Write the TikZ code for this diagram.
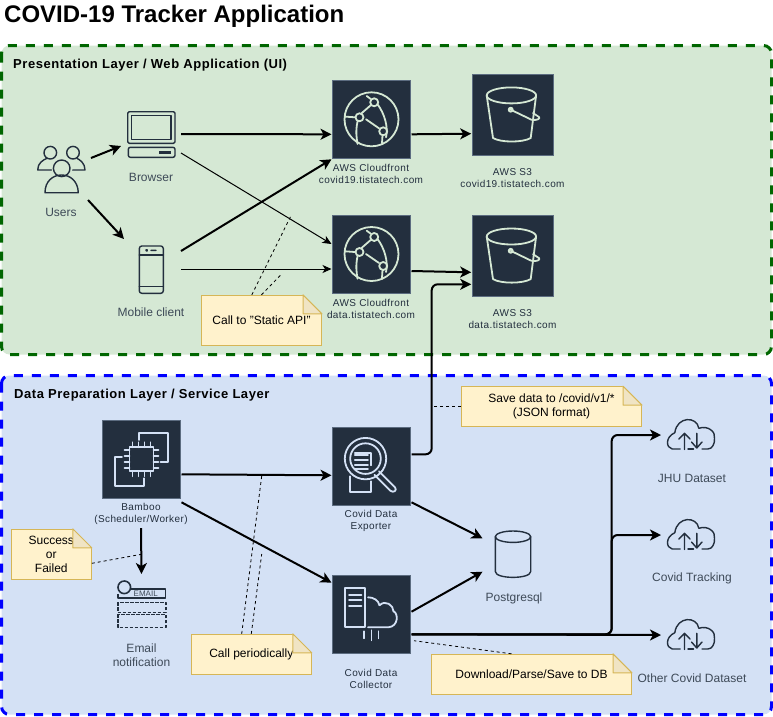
\documentclass[tikz,border=0pt]{standalone}
\usepackage{fontspec}
\setmainfont{Liberation Sans}
\newfontfamily\headfont[LetterSpace=4.2]{Liberation Sans}
\newfontfamily\awsfont[LetterSpace=4]{Liberation Sans}
\usepackage{xcolor}
\definecolor{trgreen}{RGB}{213,232,212}
\definecolor{trblue}{RGB}{212,225,245}
\definecolor{trgreenline}{RGB}{0,102,0}
\definecolor{trblueline}{RGB}{0,0,255}
\definecolor{awsdark}{RGB}{35,47,62}
\definecolor{awsedge}{RGB}{92,108,128}
\definecolor{labelgray}{RGB}{62,74,88}
\definecolor{notefill}{RGB}{255,242,204}
\definecolor{noteline}{RGB}{214,182,86}
\definecolor{notefold}{RGB}{240,228,196}
\usetikzlibrary{arrows.meta, positioning, calc}
\tikzset{
  panelline/.style={line width=3pt, dash pattern=on 9pt off 9pt, rounded corners=8pt},
  panelhead/.style={font=\fontsize{13}{15}\headfont\bfseries, anchor=west, text=black},
  awsbox/.style={fill=awsdark, draw=awsedge, line width=1pt, minimum size=78pt, inner sep=0pt, outer sep=1pt},
  iconbox/.style={minimum size=60pt, inner sep=0pt, outer sep=0pt},
  iconlabel/.style={font=\fontsize{12}{14}\selectfont, text=labelgray, align=center},
  awslabel/.style={font=\fontsize{10}{12}\awsfont, text=awsdark, align=center},
  notebox/.style={fill=notefill, draw=noteline, line width=1pt, inner sep=0pt, font=\fontsize{12}{14}\selectfont, text=black, align=center},
  notelink/.style={black, line width=.8pt, dash pattern=on 3pt off 3pt},
  flow/.style={black, line width=2pt, -{Stealth[length=11pt, width=11pt, inset=3pt]}},
  thinflow/.style={black, line width=1pt, -{Stealth[length=9pt, width=8pt, inset=2.5pt]}},
  glyph/.style={line width=1.8pt, line join=round, line cap=round},
  cloudfrontglyph/.pic={
    \begin{scope}[glyph]
    \draw (0,0) circle (27);
    \draw (2.7,-17) circle (4) (-12,-2) circle (4) (11.7,12) circle (4);
    \draw (-4.8,-23.3) -- (-0.8,-20.3) (-26.5,-2.7) -- (-16.5,-2);
    \draw (-10,-6) -- (-0.8,-14) (-5.5,0) -- (7.5,9) (11,16) -- (10.5,24);
    \draw (-14,2.3) .. controls (-16,12) and (-15,18) .. (-14,24.7);
    \draw (5.8,-15.3) .. controls (13,-6) and (17,8) .. (14.5,18);
    \end{scope}
  },
  bucketglyph/.pic={
    \begin{scope}[glyph]
    \draw (-1.3,-19.3) ellipse (24.7 and 8);
    \draw (-26,-19.3) -- (-19.7,23.3) .. controls (-12,28) and (10,28) .. (18,23.3) -- (23.4,-19.3);
    \draw (-2,-5) circle (2);
    \draw (-2,-5) -- (18.7,5) .. controls (24,6) and (28,4) .. (26.3,2.3) -- (20.3,-1.7);
    \end{scope}
  },
  chipglyph/.pic={
    \begin{scope}[glyph]
    \draw (-12,-12) rectangle (12,12);
    \foreach \pinpos in {-9,-3,3,9} {
      \draw (\pinpos,-12) -- (\pinpos,-17) (\pinpos,12) -- (\pinpos,17);
      \draw (-12,\pinpos) -- (-17,\pinpos) (12,\pinpos) -- (17,\pinpos);
    }
    \draw (-2.8,-19.3) -- (-2.8,-26) -- (26.2,-26) -- (26.2,2.3) -- (19,2.3);
    \draw (-19.5,-2.7) -- (-26.5,-2.7) -- (-26.5,26.3) -- (2.5,26.3) -- (2.5,19);
    \end{scope}
  },
  searchglyph/.pic={
    \begin{scope}[glyph]
    \draw (-6,-7.7) circle (20.7) (-6,-7.7) circle (15.3);
    \draw (-16.7,-13.5) -- (-0.7,-13.5) -- (-0.7,-1);
    \draw (-16.7,-11) -- (-3.5,-11) (-16.7,-6.5) -- (-3.5,-6.5) (-16.7,-1.5) -- (-3.5,-1.5) (-16.7,3) -- (-3.5,3);
    \draw (7.5,5) -- (23.5,21) .. controls (26,24) and (22,27) .. (19,24.5) -- (3,8.5);
    \draw (-21.7,10) -- (-21.7,25.5) -- (-0.5,25.5) -- (-0.5,15);
    \end{scope}
  },
  collectorglyph/.pic={
    \begin{scope}[glyph]
    \draw (-26.5,-26.5) rectangle (-6.5,13);
    \draw (-22.5,-19.5) -- (-10,-19.5) (-22.5,-14.5) -- (-10,-14.5) (-22.5,-8.5) -- (-10,-8.5);
    \draw (-3.5,-17) .. controls (2,-17) and (7,-14) .. (8,-9);
    \draw (8,-9) .. controls (14,-15) and (22,-9) .. (22,-3);
    \draw (22,-3) .. controls (27,-1) and (27,12) .. (17,13) -- (-3.5,13);
    \draw (-7.5,17) -- (-7.5,24) (0,16) -- (0,26) (7,17) -- (7,24);
    \end{scope}
  },
  usersglyph/.pic={
    \begin{scope}[glyph, line width=1.4pt]
    \draw (0.7,-1.7) circle (8.3) (-10.7,-17.3) circle (6.3) (12,-17.3) circle (6.3);
    \draw (-16,22.7) .. controls (-16,11) and (-8,5) .. (0.7,5) .. controls (9,5) and (17,11) .. (17.3,22.7) -- cycle;
    \draw (-9.5,0) -- (-23.3,0) .. controls (-23.3,-7) and (-18,-10) .. (-14,-11.7);
    \draw (11.7,0) -- (24,0) .. controls (24,-7) and (19,-10) .. (16,-11.7);
    \end{scope}
  },
  browserglyph/.pic={
    \begin{scope}[glyph, line width=1.4pt]
    \draw[rounded corners=1.5pt] (-23.3,-22.3) rectangle (24,9.3);
    \draw (-19.3,-18.3) rectangle (20,5.3);
    \draw[rounded corners=2pt] (-22.7,13.3) rectangle (24,23.3);
    \fill (7.7,17) rectangle (20.3,20);
    \end{scope}
  },
  phoneglyph/.pic={
    \begin{scope}[glyph, line width=1.4pt]
    \draw[rounded corners=2.5pt] (-11.7,-23) rectangle (12.3,24.3);
    \draw (-11.7,-14) -- (12.3,-14) (-11.7,17.7) -- (12.3,17.7);
    \draw (-4.3,-18.7) circle (.8) (0,-18.7) -- (5,-18.7);
    \end{scope}
  },
  emailglyph/.pic={
    \begin{scope}[glyph, line width=1.6pt, line cap=butt]
    \draw (-17.2,-16.7) circle (6.3);
    \draw (-10.5,-15) -- (24,-15) -- (24,-6.3) -- (-23.8,-6.3) -- (-23.8,-10);
    \node[font=\fontsize{8}{8}\selectfont, text=labelgray] (emailword) at (4.2,-10.2) {EMAIL};
    \draw[dash pattern=on 3.5pt off 1.5pt] (-23.8,-1.7) rectangle (24.2,8.3) (-23.8,10.3) rectangle (24.2,23.3);
    \end{scope}
  },
  dbglyph/.pic={
    \begin{scope}[glyph, line width=1.4pt]
    \draw (0.5,-18.3) ellipse (17.7 and 5.7);
    \draw (-17.2,-18.3) -- (-17.2,16.5) .. controls (-17.2,24.3) and (18.2,24.3) .. (18.2,16.5) -- (18.2,-18.3);
    \end{scope}
  },
  cloudglyph/.pic={
    \begin{scope}[glyph, line width=1.4pt]
    \draw (-10.8,14) -- (-18.8,14) .. controls (-25,13) and (-26,2) .. (-16.2,-2.3)
      .. controls (-14,-19) and (6,-19) .. (7.8,-6.7)
      .. controls (17,-10) and (25,-3) .. (23.5,3.3)
      .. controls (24,9) and (21,14) .. (16.8,14) -- (11,14);
    \draw (-6.5,14.5) -- (-6.5,-1.7) (-12.2,4) -- (-6.5,-1.7) -- (-1,4);
    \draw (5.8,-1.7) -- (5.8,13) (0.5,7) -- (5.8,13) -- (11,7);
    \draw (-3,14) -- (2.5,14);
    \end{scope}
  },
}
% folded corner of a note, #1 note name, #2 colour of the panel behind it
\newcommand{\notecorner}[2]{
  \fill[#2] ([xshift=-19.5pt]#1.north east) -- ([xshift=1pt,yshift=1pt]#1.north east) -- ([yshift=-19.5pt]#1.north east) -- cycle;
  \draw[noteline, line width=1pt, fill=notefold, line join=round]
    ([xshift=-19pt]#1.north east) -- ([yshift=-19pt]#1.north east) -- ([xshift=-19pt,yshift=-19pt]#1.north east) -- cycle;
}

\begin{document}
\begin{tikzpicture}[x=1pt, y=-1pt]
  \useasboundingbox (0,0) rectangle (773,716);

  % Title
  \node[font=\fontsize{24}{28}\selectfont\bfseries, anchor=west, inner sep=0pt] (title) at (4,16) {COVID-19 Tracker Application};

  % Panel borders
  \draw[panelline, fill=trgreen, draw=trgreenline] (1.5,45.5) rectangle (771.5,354.5);
  \draw[panelline, fill=trblue, draw=trblueline] (1.5,375.5) rectangle (771.5,714.5);
  \node[panelhead, inner sep=0pt] (presentationhead) at (13,65.5) {Presentation Layer / Web Application (UI)};
  \node[panelhead, inner sep=0pt] (datahead) at (14,395.5) {Data Preparation Layer / Service Layer};

  % --- Presentation layer ---
  \node[iconbox] (users) at (61,170) {};
  \node[iconbox] (browser) at (151,134) {};
  \node[iconbox] (mobile) at (151,269) {};
  \pic[awsdark] at (users) {usersglyph};
  \pic[awsdark] at (browser) {browserglyph};
  \pic[awsdark] at (mobile) {phoneglyph};
  \node[iconlabel] (userslabel) at (61,212.5) {Users};
  \node[iconlabel] (browserlabel) at (151,177.5) {Browser};
  \node[iconlabel] (mobilelabel) at (151,312.5) {Mobile client};

  \node[awsbox] (cfcovid) at (371.5,119.3) {};
  \node[awsbox] (cfdata) at (371.5,254) {};
  \node[awsbox, minimum size=81pt] (s3covid) at (512.7,114.7) {};
  \node[awsbox, minimum size=81pt] (s3data) at (512.7,255.8) {};
  \pic[trgreen] at (cfcovid) {cloudfrontglyph};
  \pic[trgreen] at (cfdata) {cloudfrontglyph};
  \pic[trgreen] at (s3covid) {bucketglyph};
  \pic[trgreen] at (s3data) {bucketglyph};
  \node[awslabel] (cfcovidlabel) at (371,174) {AWS Cloudfront\\covid19.tistatech.com};
  \node[awslabel] (cfdatalabel) at (371,309) {AWS Cloudfront\\data.tistatech.com};
  \node[awslabel] (s3covidlabel) at (512.5,178) {AWS S3\\covid19.tistatech.com};
  \node[awslabel] (s3datalabel) at (512.5,319) {AWS S3\\data.tistatech.com};

  % Presentation connectors
  \draw[flow] ([yshift=12pt]users.east) -- ([yshift=-12pt]browser.west);
  \draw[flow] ([xshift=-3pt]users.south east) -- ([xshift=3pt]mobile.north west);
  \draw[flow] (browser.east) -- ([yshift=-15pt]cfcovid.west);
  \draw[thinflow] ([yshift=-19pt]browser.east) -- ([yshift=10pt]cfdata.west);
  \draw[flow] ([yshift=18pt]mobile.east) -- (cfcovid.south west);
  \draw[thinflow] (mobile.east) -- ([yshift=-15pt]cfdata.west);
  \draw[flow] ([yshift=-15pt]cfcovid.east) -- ([yshift=-19pt]s3covid.west);
  \draw[flow] ([yshift=-17pt]cfdata.east) -- ([yshift=-16.5pt]s3data.west);

  % Note on the static API
  \node[notebox, minimum width=120pt, minimum height=50pt] (notestatic) at (261.5,320.3) {Call to "Static API"};
  \notecorner{notestatic}{trgreen}
  \coordinate (statictipa) at (291.7,214.3);
  \coordinate (statictipb) at (281.7,274);
  \draw[notelink] ([xshift=-9.7pt]notestatic.north) -- (statictipa);
  \draw[notelink] (notestatic.north) -- (statictipb);

  % --- Data preparation layer ---
  \node[awsbox] (bamboo) at (141.5,459.3) {};
  \node[awsbox] (exporter) at (371.5,466.3) {};
  \node[awsbox] (collector) at (371.5,614.3) {};
  \pic[trblue] at (bamboo) {chipglyph};
  \pic[trblue] at (exporter) {searchglyph};
  \pic[trblue] at (collector) {collectorglyph};
  \node[awslabel] (bamboolabel) at (141,514) {Bamboo\\(Scheduler/Worker)};
  \node[awslabel] (exporterlabel) at (371,520.5) {Covid Data\\Exporter};
  \node[awslabel] (collectorlabel) at (371,678.5) {Covid Data\\Collector};

  \node[iconbox] (email) at (141.5,604) {};
  \node[iconbox] (postgres) at (512.5,555) {};
  \node[iconbox] (jhu) at (691,435) {};
  \node[iconbox] (tracking) at (691,535) {};
  \node[iconbox] (otherset) at (691,635) {};
  \pic[awsdark] at (email) {emailglyph};
  \pic[awsdark] at (postgres) {dbglyph};
  \pic[awsdark] at (jhu) {cloudglyph};
  \pic[awsdark] at (tracking) {cloudglyph};
  \pic[awsdark] at (otherset) {cloudglyph};
  \node[iconlabel] (emaillabel) at (141.5,655) {Email\\notification};
  \node[iconlabel] (postgreslabel) at (514,598.5) {Postgresql};
  \node[iconlabel] (jhulabel) at (692,478) {JHU Dataset};
  \node[iconlabel] (trackinglabel) at (692,578) {Covid Tracking};
  \node[iconlabel] (othersetlabel) at (692,678) {Other Covid Dataset};

  % Data connectors
  \coordinate (riser) at (431.7,370);
  \coordinate (bus) at (611.7,535);
  \coordinate (exporterport) at ([yshift=12pt]exporter.east);
  \coordinate (s3dataport) at ([yshift=-28.5pt]s3data.west);
  \coordinate (collectorport) at ([yshift=-20pt]collector.east);
  \draw[flow] ([yshift=-15pt]bamboo.east) -- ([yshift=-9pt]exporter.west);
  \draw[flow] ([yshift=-43pt]bamboo.east) -- ([yshift=-8.3pt]collector.north west);
  \draw[flow] (bamboolabel.south) -- (email.north);
  \draw[flow] ([yshift=-36pt]exporter.east) -- ([yshift=16.7pt]postgres.west);
  \draw[flow] ([yshift=2.6pt]collector.east) -- ([yshift=-16.7pt]postgres.west);
  \draw[flow, rounded corners=6pt] (exporterport) -- (exporterport -| riser) -- (riser |- s3dataport) -- (s3dataport);
  \draw[flow, rounded corners=6pt] (collectorport) -- (collectorport -| bus) -- (bus |- jhu.west) -- (jhu.west);
  \draw[flow, rounded corners=6pt] (collectorport) -- (collectorport -| bus) -- (bus |- tracking.west) -- (tracking.west);
  \draw[flow] (collectorport) -- (otherset.west);

  % Notes
  \node[notebox, minimum width=180pt, minimum height=40pt] (notesave) at (551.5,406.7) {Save data to /covid/v1/*\\(JSON format)};
  \notecorner{notesave}{trblue}
  \node[notebox, minimum width=80pt, minimum height=50pt] (notesuccess) at (51.3,554.3) {Success\\or\\Failed};
  \notecorner{notesuccess}{trblue}
  \node[notebox, minimum width=120pt, minimum height=40pt] (notecall) at (251.3,654.3) {Call periodically};
  \notecorner{notecall}{trblue}
  \node[notebox, minimum width=200pt, minimum height=40pt] (notedownload) at (531.5,674.3) {Download/Parse/Save to DB};
  \notecorner{notedownload}{trblue}
  \coordinate (savetip) at (434,406.7);
  \coordinate (successtip) at (141.3,554.3);
  \coordinate (calltipa) at (261.7,476);
  \coordinate (calltipb) at (261.7,554);
  \coordinate (downloadtip) at (414,640.7);
  \draw[notelink] (notesave.west) -- (savetip);
  \draw[notelink] ([yshift=-9pt]notesuccess.east) -- (successtip);
  \draw[notelink] ([xshift=-9.6pt]notecall.north) -- (calltipa);
  \draw[notelink] (notecall.north) -- (calltipb);
  \draw[notelink] ([xshift=-20pt]notedownload.north) -- (downloadtip);
\end{tikzpicture}
\end{document}
